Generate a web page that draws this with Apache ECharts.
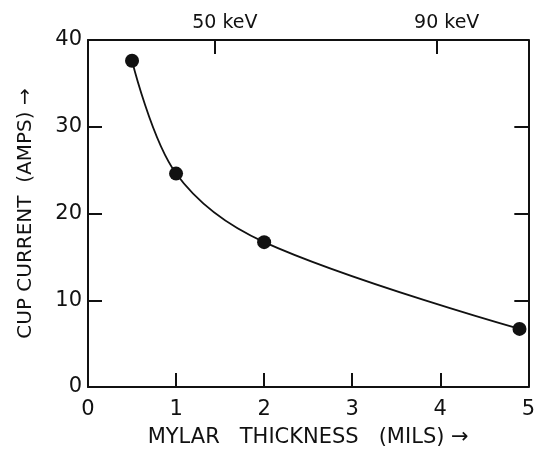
<!DOCTYPE html>
<html>
<head>
<meta charset="utf-8">
<script src="https://cdn.jsdelivr.net/npm/echarts@6/dist/echarts.min.js"></script>
<style>
	html, body { margin: 0; padding: 0; background: #fff; }
	#chart { width: 538px; height: 453px; }
</style>
</head>
<body>
<div id="chart"></div>
<script>
// data
var thickness = [0.5, 1, 2, 4.9];
var current = [37.6, 24.6, 16.7, 6.7];
var energyTicks = [1.44, 3.96];
var energyLabels = ['50 keV', '90 keV'];

var pts = [];
for (var i = 0; i < thickness.length; i++) {
	pts.push([thickness[i], current[i]]);
}

var font = 'DejaVu Sans';
var black = '#111';

var chart = echarts.init(document.getElementById('chart'));
chart.setOption({
	animation: false,
	backgroundColor: '#fff',
	grid: {
		left: 88,
		right: 8,
		top: 40,
		bottom: 64
	},
	xAxis: [{
		type: 'value',
		position: 'bottom',
		min: 0,
		max: 5,
		interval: 1,
		name: 'MYLAR   THICKNESS   (MILS) \u2192',
		nameLocation: 'middle',
		nameGap: 40,
		nameTextStyle: {
			fontFamily: font,
			fontSize: 21,
			color: black
		},
		axisLine: {
			onZero: false,
			lineStyle: { color: black, width: 2 }
		},
		axisTick: {
			inside: true,
			length: 14,
			lineStyle: { color: black, width: 2 }
		},
		axisLabel: {
			fontFamily: font,
			fontSize: 21,
			color: black,
			margin: 12
		},
		splitLine: { show: false }
	}, {
		type: 'value',
		position: 'top',
		min: 0,
		max: 5,
		axisLine: {
			onZero: false,
			lineStyle: { color: black, width: 2 }
		},
		axisTick: {
			inside: true,
			length: 14,
			customValues: energyTicks,
			lineStyle: { color: black, width: 2 }
		},
		axisLabel: {
			fontFamily: font,
			fontSize: 19,
			color: black,
			margin: 7,
			padding: [0, 0, 0, 20],
			customValues: energyTicks,
			formatter: function(v) {
				var k = energyTicks.indexOf(v);
				return k >= 0 ? energyLabels[k] : '';
			}
		},
		splitLine: { show: false }
	}],
	yAxis: [{
		type: 'value',
		position: 'left',
		min: 0,
		max: 40,
		interval: 10,
		name: 'CUP CURRENT  (AMPS) \u2192',
		nameLocation: 'middle',
		nameRotate: 90,
		nameGap: 52,
		nameTextStyle: {
			fontFamily: font,
			fontSize: 20,
			color: black
		},
		axisLine: {
			onZero: false,
			lineStyle: { color: black, width: 2 }
		},
		axisTick: {
			inside: true,
			length: 14,
			lineStyle: { color: black, width: 2 }
		},
		axisLabel: {
			fontFamily: font,
			fontSize: 21,
			color: black,
			margin: 6
		},
		splitLine: { show: false }
	}, {
		type: 'value',
		position: 'right',
		min: 0,
		max: 40,
		interval: 10,
		axisLine: {
			onZero: false,
			lineStyle: { color: black, width: 2 }
		},
		axisTick: {
			inside: true,
			length: 14,
			lineStyle: { color: black, width: 2 }
		},
		axisLabel: { show: false },
		splitLine: { show: false }
	}],
	series: [{
		type: 'line',
		data: pts,
		smooth: 0.35,
		symbol: 'circle',
		symbolSize: 14,
		itemStyle: { color: black },
		lineStyle: { color: black, width: 1.8 }
	}]
});
</script>
</body>
</html>
